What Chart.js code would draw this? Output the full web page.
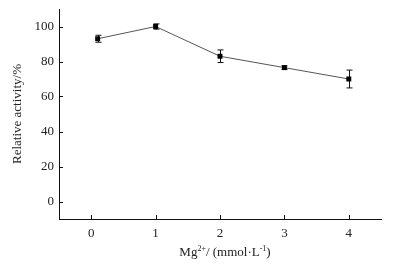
<!DOCTYPE html>
<html>
<head>
<meta charset="utf-8">
<script src="https://cdn.jsdelivr.net/npm/chart.js@4"></script>
<style>
  html, body { margin: 0; padding: 0; background: #fff; }
  #wrap { width: 413px; height: 265px; }
</style>
</head>
<body>
<div id="wrap"><canvas id="chart-mg"></canvas></div>
<script>
// Mg2+ concentration (mmol/L) vs relative activity
const mgConc = [0.1, 1, 2, 3, 4];
const activity = [93, 100, 83, 76.5, 70];
const activityErr = [2, 1.5, 3.6, 1, 5.1];
const xTicks = [0, 1, 2, 3, 4];
const yTicks = [0, 20, 40, 60, 80, 100];

const FONT = "'Liberation Serif', 'Times New Roman', serif";
const INK = "#222";

const errorBars = {
    id: "errorBars",
    beforeDatasetsDraw(chart) {
        const {ctx, scales: {x, y}} = chart;
        ctx.save();
        ctx.strokeStyle = "#111";
        ctx.lineWidth = 1;
        mgConc.forEach((v, i) => {
            let px = Math.round(x.getPixelForValue(v)) + 0.5;
            let top = y.getPixelForValue(activity[i] + activityErr[i]);
            let bot = y.getPixelForValue(activity[i] - activityErr[i]);
            ctx.beginPath();
            ctx.moveTo(px, top); ctx.lineTo(px, bot);
            ctx.moveTo(px - 3, top); ctx.lineTo(px + 3, top);
            ctx.moveTo(px - 3, bot); ctx.lineTo(px + 3, bot);
            ctx.stroke();
        });
        ctx.restore();
    }
};

// inward tick marks + axis titles (superscripts need manual placement)
const axisDecor = {
    id: "axisDecor",
    afterDraw(chart) {
        const {ctx, chartArea: area, scales: {x, y}} = chart;
        ctx.save();
        ctx.strokeStyle = "#111";
        ctx.lineWidth = 1;
        ctx.beginPath();
        xTicks.forEach(v => {
            let px = Math.round(x.getPixelForValue(v)) + 0.5;
            ctx.moveTo(px, area.bottom); ctx.lineTo(px, area.bottom - 4);
        });
        yTicks.forEach(v => {
            let py = Math.round(y.getPixelForValue(v)) + 0.5;
            ctx.moveTo(area.left, py); ctx.lineTo(area.left + 4, py);
        });
        ctx.stroke();

        ctx.fillStyle = INK;
        // y title
        ctx.save();
        ctx.translate(18, (area.top + area.bottom) / 2);
        ctx.rotate(-Math.PI / 2);
        ctx.font = "13px " + FONT;
        ctx.textAlign = "center";
        ctx.textBaseline = "middle";
        ctx.fillText("Relative activity/%", 0, 0);
        ctx.restore();

        // x title: Mg2+/(mmol·L-1)
        const parts = [
            ["Mg", 13, 0], ["2+", 8, -5], ["/ (mmol·L", 13, 0], ["-1", 8, -5], [")", 13, 0]
        ];
        let total = 0;
        parts.forEach(([t, s]) => { ctx.font = s + "px " + FONT; total += ctx.measureText(t).width; });
        let cx = (area.left + area.right) / 2 + 5 - total / 2;
        ctx.textAlign = "left";
        ctx.textBaseline = "alphabetic";
        parts.forEach(([t, s, dy]) => {
            ctx.font = s + "px " + FONT;
            ctx.fillText(t, cx, 256 + dy);
            cx += ctx.measureText(t).width;
        });
        ctx.restore();
    }
};

new Chart(document.getElementById("chart-mg"), {
    type: "line",
    data: {
        datasets: [{
            data: mgConc.map((v, i) => ({x: v, y: activity[i]})),
            borderColor: "#555",
            borderWidth: 1,
            pointStyle: "rect",
            pointRadius: 3.5,
            pointBackgroundColor: "#000",
            pointBorderColor: "#000",
            pointBorderWidth: 0,
            tension: 0
        }]
    },
    options: {
        responsive: true,
        maintainAspectRatio: false,
        animation: false,
        devicePixelRatio: 1,
        layout: { padding: { top: 9, right: 32, left: 0, bottom: 0 } },
        plugins: { legend: { display: false }, tooltip: { enabled: false } },
        scales: {
            x: {
                type: "linear",
                min: -0.5,
                max: 4.5,
                afterBuildTicks: s => { s.ticks = xTicks.map(v => ({value: v})); },
                afterFit: s => { s.height = 46; s.paddingLeft = 0; s.paddingRight = 0; },
                grid: { display: true, drawOnChartArea: false, drawTicks: false },
                border: { display: true, color: "#111", width: 1 },
                ticks: { color: INK, font: { family: FONT, size: 13 }, padding: 7, maxRotation: 0 }
            },
            y: {
                min: -10,
                max: 110,
                afterBuildTicks: s => { s.ticks = yTicks.map(v => ({value: v})); },
                afterFit: s => { s.width = 59; s.paddingTop = 0; s.paddingBottom = 0; },
                grid: { display: true, drawOnChartArea: false, drawTicks: false },
                border: { display: true, color: "#111", width: 1 },
                ticks: { color: INK, font: { family: FONT, size: 13 }, padding: 5 }
            }
        }
    },
    plugins: [errorBars, axisDecor]
});
</script>
</body>
</html>
